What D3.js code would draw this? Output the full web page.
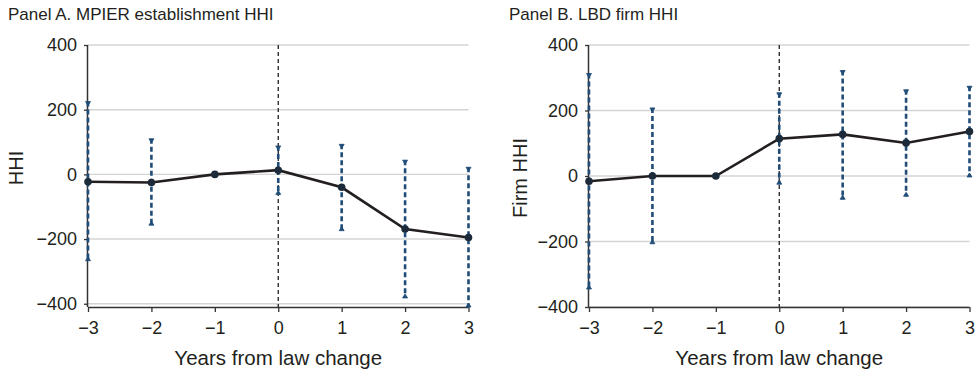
<!DOCTYPE html>
<html>
<head>
<meta charset="utf-8">
<script src="https://cdn.jsdelivr.net/npm/d3@7"></script>
<style>
  body { margin: 0; background: #fff; }
  text { font-family: "Liberation Sans", Arial, sans-serif; fill: #231f20; }
</style>
</head>
<body>
<div id="chart"></div>
<script>
// Years relative to the law change
const years = [-3, -2, -1, 0, 1, 2, 3];

// Panel A: MPIER establishment HHI
const hhiA = [-23, -25, 0, 13, -40, -169, -195];
const lowA = [-267, -157, null, -62, -174, -382, -410];
const highA = [225, 110, null, 88, 93, 44, 22];

// Panel B: LBD firm HHI
const hhiB = [-16, 0, 0, 114, 127, 101, 136];
const lowB = [-345, -207, null, -25, -71, -62, -3];
const highB = [313, 208, null, 254, 322, 263, 274];

const yTicks = [-400, -200, 0, 200, 400];

const W = 979, H = 379;
const svg = d3.select("#chart").append("svg")
    .attr("width", W)
    .attr("height", H);

const lineColor = "#231f20";
const barColor = "#1f4d78";

function drawPanel(opts) {
    const x = d3.scaleLinear().domain([-3, 3]).range([opts.left, opts.right]);
    const y = d3.scaleLinear().domain(opts.yDomain).range([307, 45]);
    const g = svg.append("g");

    // title
    g.append("text")
        .attr("x", opts.titleX)
        .attr("y", 20)
        .style("font-size", "17px")
        .text(opts.title);

    // gridlines
    g.selectAll(".grid")
        .data(yTicks)
        .enter().append("line")
        .attr("x1", opts.left)
        .attr("x2", opts.right)
        .attr("y1", d => y(d))
        .attr("y2", d => y(d))
        .attr("stroke", "#d4d4d4")
        .attr("stroke-width", 1.4);

    // axes
    const yAxis = g.append("g")
        .attr("transform", `translate(${opts.left},0)`)
        .call(d3.axisLeft(y).tickValues(yTicks).tickSize(4).tickPadding(7));
    yAxis.select(".domain").attr("d", `M-0.5,${y.range()[0]}V${y.range()[1]}`);

    const xAxis = g.append("g")
        .attr("transform", `translate(0,307)`)
        .call(d3.axisBottom(x).tickValues(years).tickFormat(d3.format("d")).tickSize(5).tickPadding(9));
    xAxis.select(".domain").attr("d", `M${opts.left},0.5H${opts.right}`);

    [yAxis, xAxis].forEach(a => {
        a.select(".domain").attr("stroke", "#333").attr("stroke-width", 1.5);
        a.selectAll(".tick line").attr("stroke", "#333").attr("stroke-width", 1.3);
        a.selectAll(".tick text")
            .style("font-size", "18px")
            .style("font-family", "'Liberation Sans', Arial, sans-serif")
            .attr("fill", "#231f20");
    });

    // axis titles
    g.append("text")
        .attr("x", (opts.left + opts.right) / 2)
        .attr("y", 365)
        .attr("text-anchor", "middle")
        .style("font-size", "20.5px")
        .text("Years from law change");

    g.append("text")
        .attr("transform", `translate(${opts.yTitleX},${opts.yTitleY}) rotate(-90)`)
        .attr("text-anchor", "middle")
        .style("font-size", "20px")
        .text(opts.yTitle);

    // reference line at the law change
    g.append("line")
        .attr("x1", x(0)).attr("x2", x(0))
        .attr("y1", y.range()[1]).attr("y2", y.range()[0])
        .attr("stroke", "#231f20")
        .attr("stroke-width", 1.3)
        .attr("stroke-dasharray", "4,3");

    // confidence intervals
    const ci = years.map((yr, i) => ({yr, lo: opts.low[i], hi: opts.high[i]}))
        .filter(d => d.lo !== null);

    const bars = g.selectAll(".ci").data(ci).enter().append("g");
    bars.append("line")
        .attr("x1", d => x(d.yr)).attr("x2", d => x(d.yr))
        .attr("y1", d => y(d.hi)).attr("y2", d => y(d.lo))
        .attr("stroke", barColor)
        .attr("stroke-width", 2.6)
        .attr("stroke-dasharray", "5,3");
    bars.append("path")
        .attr("d", d => `M${x(d.yr) - 2.5},${y(d.hi)}H${x(d.yr) + 2.5}L${x(d.yr)},${y(d.hi) + 4}Z`)
        .attr("fill", barColor)
        .attr("stroke", barColor)
        .attr("stroke-width", 0.8);
    bars.append("path")
        .attr("d", d => `M${x(d.yr) - 2.5},${y(d.lo)}H${x(d.yr) + 2.5}L${x(d.yr)},${y(d.lo) - 4}Z`)
        .attr("fill", barColor)
        .attr("stroke", barColor)
        .attr("stroke-width", 0.8);

    // point estimates
    const pts = years.map((yr, i) => ({yr, v: opts.vals[i]}));
    g.append("path")
        .datum(pts)
        .attr("fill", "none")
        .attr("stroke", lineColor)
        .attr("stroke-width", 2.6)
        .attr("d", d3.line().x(d => x(d.yr)).y(d => y(d.v)));

    g.selectAll(".pt")
        .data(pts)
        .enter().append("circle")
        .attr("cx", d => x(d.yr))
        .attr("cy", d => y(d.v))
        .attr("r", 3.8)
        .attr("fill", "#1c2a3a");
}

drawPanel({
    left: 88, right: 468.5, yDomain: [-410, 400],
    title: "Panel A. MPIER establishment HHI", titleX: 8,
    yTitle: "HHI", yTitleX: 23, yTitleY: 168,
    vals: hhiA, low: lowA, high: highA
});

drawPanel({
    left: 589, right: 969.5, yDomain: [-400, 400],
    title: "Panel B. LBD firm HHI", titleX: 509,
    yTitle: "Firm HHI", yTitleX: 527, yTitleY: 178,
    vals: hhiB, low: lowB, high: highB
});
</script>
</body>
</html>
